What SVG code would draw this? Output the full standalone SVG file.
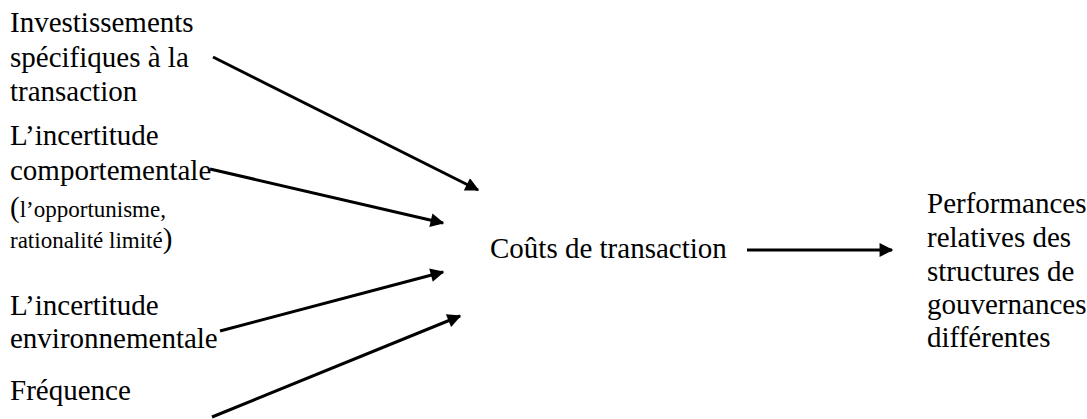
<svg xmlns="http://www.w3.org/2000/svg" width="1087" height="419" viewBox="0 0 1087 419" font-family="'Liberation Serif', Tinos, 'DejaVu Serif', serif">
<style>
text{font-family:'Liberation Serif',Tinos,'DejaVu Serif',serif;font-size:29px;fill:#000}
.sm{font-size:23px}
.c line{stroke:#000;stroke-width:3;fill:none}
</style>
<defs>
<marker id="ah" viewBox="0 0 10 10" refX="9" refY="5" markerWidth="5.5" markerHeight="4.6" markerUnits="strokeWidth" orient="auto">
<path d="M0,0L10,5L0,10z" fill="#000"/>
</marker>
</defs>
<rect width="1087" height="419" fill="#fff"/>
<g id="n1"><text x="10" y="32">Investissements</text><text x="10" y="67">spécifiques à la</text><text x="10" y="101">transaction</text></g>
<g id="n2"><text x="10" y="145">L’incertitude</text><text x="10" y="180">comportementale</text><text x="10" y="217"><tspan>(</tspan><tspan class="sm">l’opportunisme,</tspan></text><text x="10" y="248"><tspan class="sm">rationalité limité</tspan><tspan>)</tspan></text></g>
<g id="n3"><text x="10" y="315">L’incertitude</text><text x="10" y="348">environnementale</text></g>
<g id="n4"><text x="10" y="400">Fréquence</text></g>
<g id="n5"><text x="490" y="258">Coûts de transaction</text></g>
<g id="n6"><text x="927" y="213">Performances</text><text x="927" y="247">relatives  des</text><text x="927" y="281">structures de</text><text x="927" y="314">gouvernances</text><text x="927" y="347">différentes</text></g>
<g id="connectors" class="c">
<line x1="213" y1="57" x2="478" y2="190" marker-end="url(#ah)"/>
<line x1="210" y1="169" x2="443" y2="223" marker-end="url(#ah)"/>
<line x1="220" y1="331" x2="443" y2="272" marker-end="url(#ah)"/>
<line x1="212" y1="417" x2="460" y2="316" marker-end="url(#ah)"/>
<line x1="747" y1="250" x2="892" y2="250" marker-end="url(#ah)"/>
</g>
</svg>
